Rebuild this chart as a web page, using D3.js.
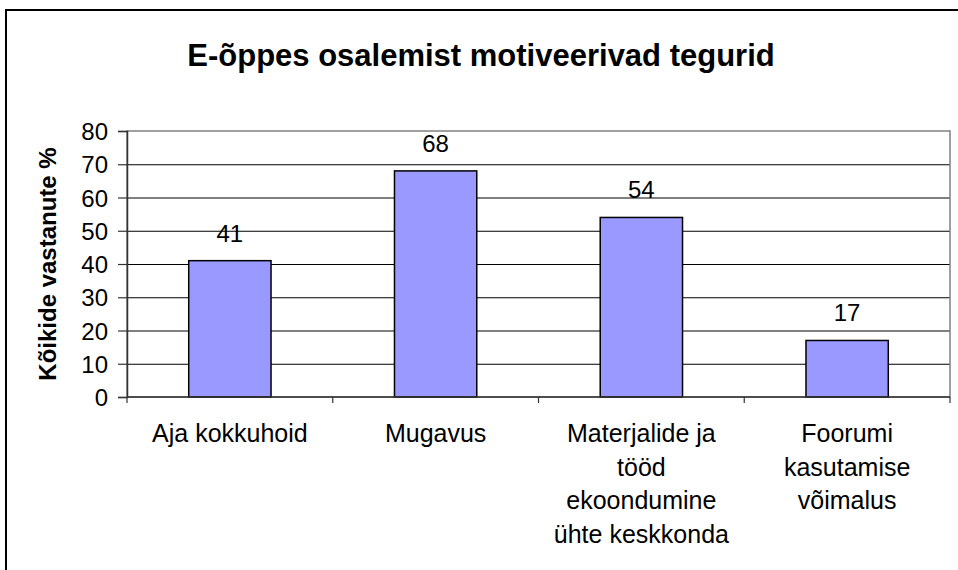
<!DOCTYPE html>
<html>
<head>
<meta charset="utf-8">
<title>E-õppes osalemist motiveerivad tegurid</title>
<script src="https://cdn.jsdelivr.net/npm/d3@7"></script>
<style>
    body { margin: 0; background: #fff; }
    svg text { font-family: "Liberation Sans", Arial, sans-serif; fill: #000; }
    .grid line { stroke: #000; stroke-width: 1px; }
    .grid .domain { display: none; }
</style>
</head>
<body>
<script>
// chart data
var categories = ["Aja kokkuhoid", "Mugavus", "Materjalide ja tööd ekoondumine ühte keskkonda", "Foorumi kasutamise võimalus"];
var categoryLines = [
    ["Aja kokkuhoid"],
    ["Mugavus"],
    ["Materjalide ja", "tööd", "ekoondumine", "ühte keskkonda"],
    ["Foorumi", "kasutamise", "võimalus"]
];
var values = [41, 68, 54, 17];
var yTicks = [0, 10, 20, 30, 40, 50, 60, 70, 80];
var title = "E-õppes osalemist motiveerivad tegurid";
var yLabel = "Kõikide vastanute %";

var W = 958, H = 570;
var margin = {top: 131, right: 8, bottom: 173, left: 127};
var width = 950 - margin.left,
    height = 397 - margin.top;

var svg = d3.select("body").append("svg")
    .attr("width", W)
    .attr("height", H);

// outer chart border (cut off at right and bottom)
svg.append("rect")
    .attr("x", 6).attr("y", 10)
    .attr("width", 970).attr("height", 580)
    .attr("fill", "none")
    .attr("stroke", "#000")
    .attr("stroke-width", 2);

svg.append("text")
    .attr("x", 481).attr("y", 66)
    .attr("text-anchor", "middle")
    .style("font-size", "31px")
    .style("font-weight", "bold")
    .text(title);

var g = svg.append("g")
    .attr("transform", "translate(" + margin.left + "," + margin.top + ")");

var x = d3.scaleBand().domain(categories).range([0, width]).paddingInner(0.6).paddingOuter(0.3);
var xb = d3.scaleBand().domain(categories).range([0, width]);
var y = d3.scaleLinear().domain([0, 80]).range([height, 0]);

// gridlines
g.append("g")
    .attr("class", "grid")
    .call(d3.axisLeft(y).tickValues(yTicks.slice(1, -1)).tickSize(-width).tickFormat(""));

// plot area border (gray)
g.append("rect")
    .attr("x", 0).attr("y", 0)
    .attr("width", width).attr("height", height)
    .attr("fill", "none")
    .attr("stroke", "#808080")
    .attr("stroke-width", 1.5);

// bars
g.selectAll(".bar")
    .data(values)
    .enter().append("rect")
    .attr("class", "bar")
    .attr("x", function(d, i) { return x(categories[i]); })
    .attr("y", function(d) { return y(d); })
    .attr("width", x.bandwidth())
    .attr("height", function(d) { return height - y(d); })
    .attr("fill", "#9999FF")
    .attr("stroke", "#000")
    .attr("stroke-width", 1.5);

// value labels
g.selectAll(".vlabel")
    .data(values)
    .enter().append("text")
    .attr("class", "vlabel")
    .attr("x", function(d, i) { return x(categories[i]) + x.bandwidth() / 2; })
    .attr("y", function(d) { return y(d) - 19; })
    .attr("text-anchor", "middle")
    .style("font-size", "24px")
    .text(function(d) { return d; });

// y axis
var yAxis = g.append("g")
    .call(d3.axisLeft(y).tickValues(yTicks).tickSize(9).tickPadding(10));
yAxis.select(".domain").attr("stroke", "#333").attr("stroke-width", 1.5);
yAxis.selectAll(".tick line").attr("stroke", "#333").attr("stroke-width", 1.2);
yAxis.selectAll(".tick text").style("font-size", "24px").attr("dy", "0.36em");

// x axis: ticks at category boundaries
var xAxisG = g.append("g").attr("transform", "translate(0," + height + ")");
xAxisG.append("line")
    .attr("x1", 0).attr("x2", width)
    .attr("stroke", "#333").attr("stroke-width", 1.5);
var bounds = categories.map(function(c) { return xb(c); }).concat([width]);
xAxisG.selectAll(".xtick")
    .data(bounds)
    .enter().append("line")
    .attr("x1", function(d) { return d; }).attr("x2", function(d) { return d; })
    .attr("y1", 0).attr("y2", 6)
    .attr("stroke", "#333").attr("stroke-width", 1.2);

var cat = xAxisG.selectAll(".cat")
    .data(categoryLines)
    .enter().append("text")
    .attr("class", "cat")
    .attr("text-anchor", "middle")
    .style("font-size", "25px")
    .attr("transform", function(d, i) { return "translate(" + (xb(categories[i]) + xb.bandwidth() / 2) + ",45)"; });
cat.selectAll("tspan")
    .data(function(d) { return d; })
    .enter().append("tspan")
    .attr("x", 0)
    .attr("y", function(d, i) { return i * 33.5; })
    .text(function(d) { return d; });

// y axis title
svg.append("text")
    .attr("transform", "translate(56," + (margin.top + height / 2) + ") rotate(-90)")
    .attr("text-anchor", "middle")
    .style("font-size", "24px")
    .style("font-weight", "bold")
    .text(yLabel);
</script>
</body>
</html>
